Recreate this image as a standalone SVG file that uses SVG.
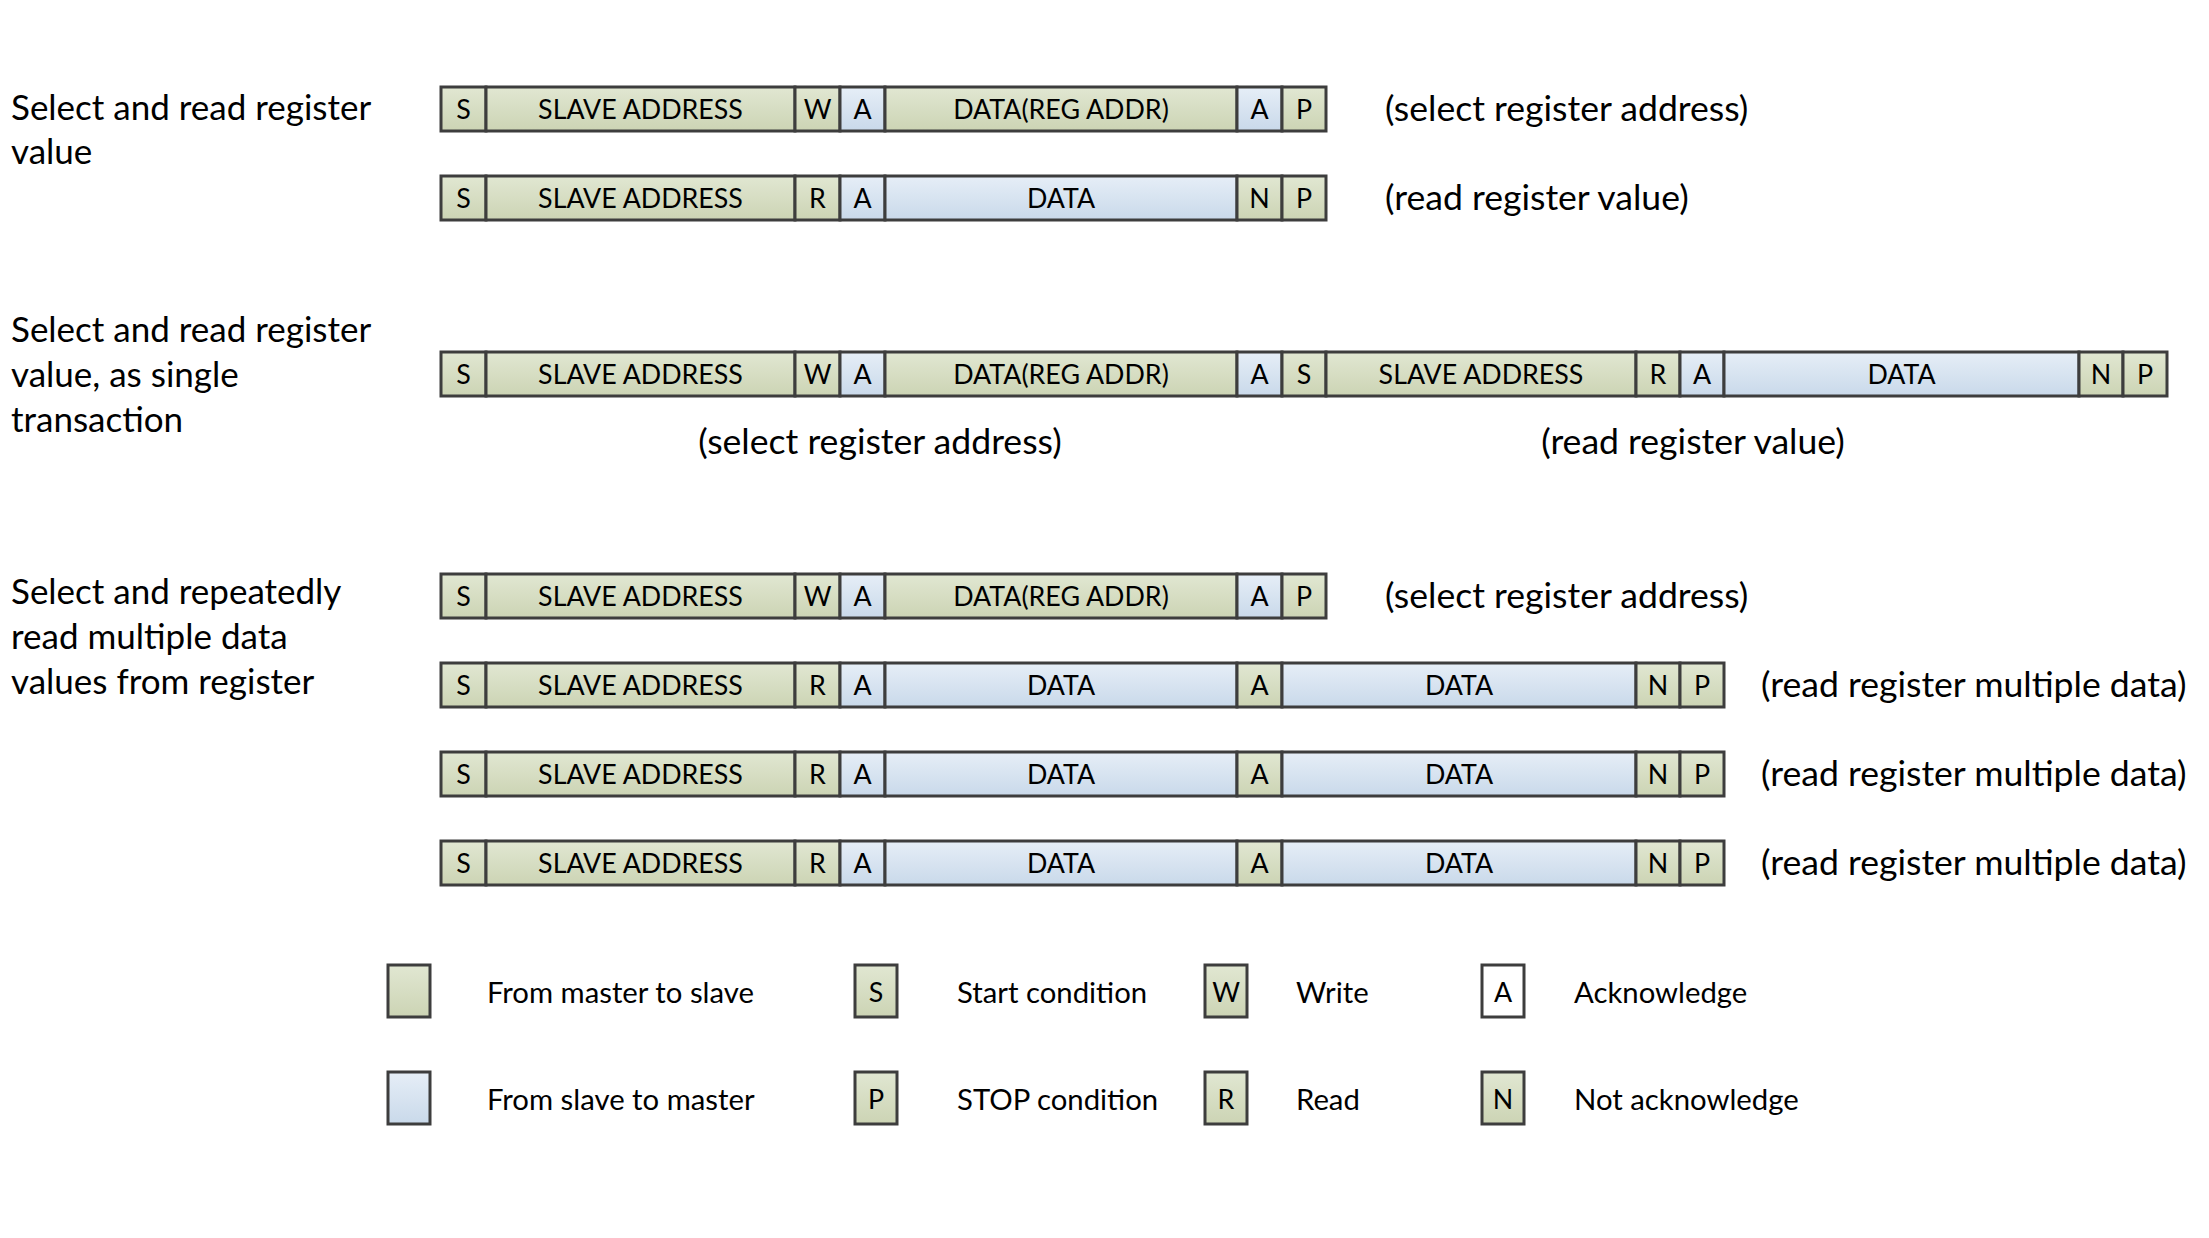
<svg xmlns="http://www.w3.org/2000/svg" width="2209" height="1238" viewBox="0 0 2209 1238">
<style>
.bg{fill:#ffffff}
rect.g{fill:url(#gg);stroke:#3d3d3d;stroke-width:3}
rect.b{fill:url(#gb);stroke:#3d3d3d;stroke-width:3}
rect.w{fill:#ffffff;stroke:#3d3d3d;stroke-width:3}
text{font-family:Lato,"Liberation Sans",sans-serif;fill:#000}
.c{font-size:26.8px;text-anchor:middle}
.lab{font-size:35px}
.note{font-size:35.6px}
.leg{font-size:29.3px}
</style>
<defs>
<linearGradient id="gg" x1="0" y1="0" x2="0" y2="1">
<stop offset="0" stop-color="#e1e7d2"/>
<stop offset="1" stop-color="#ccd4b4"/>
</linearGradient>
<linearGradient id="gb" x1="0" y1="0" x2="0" y2="1">
<stop offset="0" stop-color="#e6eef7"/>
<stop offset="1" stop-color="#c9d9ea"/>
</linearGradient>
</defs>
<rect class="bg" x="0" y="0" width="2209" height="1238"/>

<g id="labels">
<text class="lab" x="11" y="120">Select and read register</text>
<text class="lab" x="11" y="164">value</text>
<text class="lab" x="11" y="342">Select and read register</text>
<text class="lab" x="11" y="387">value, as single</text>
<text class="lab" x="11" y="432">transaction</text>
<text class="lab" x="11" y="604">Select and repeatedly</text>
<text class="lab" x="11" y="649">read multiple data</text>
<text class="lab" x="11" y="694">values from register</text>
</g>

<g id="row1">
<rect class="g" x="441" y="87" width="45" height="44"/><text class="c" x="463.5" y="119">S</text>
<rect class="g" x="486" y="87" width="309" height="44"/><text class="c" x="640.5" y="119">SLAVE ADDRESS</text>
<rect class="g" x="795" y="87" width="45" height="44"/><text class="c" x="817.5" y="119">W</text>
<rect class="b" x="840" y="87" width="45" height="44"/><text class="c" x="862.5" y="119">A</text>
<rect class="g" x="885" y="87" width="352" height="44"/><text class="c" x="1061" y="119">DATA(REG ADDR)</text>
<rect class="b" x="1237" y="87" width="45" height="44"/><text class="c" x="1259.5" y="119">A</text>
<rect class="g" x="1282" y="87" width="44" height="44"/><text class="c" x="1304" y="119">P</text>
<text class="note" x="1385" y="121">(select register address)</text>
</g>

<g id="row2">
<rect class="g" x="441" y="176" width="45" height="44"/><text class="c" x="463.5" y="208">S</text>
<rect class="g" x="486" y="176" width="309" height="44"/><text class="c" x="640.5" y="208">SLAVE ADDRESS</text>
<rect class="g" x="795" y="176" width="45" height="44"/><text class="c" x="817.5" y="208">R</text>
<rect class="b" x="840" y="176" width="45" height="44"/><text class="c" x="862.5" y="208">A</text>
<rect class="b" x="885" y="176" width="352" height="44"/><text class="c" x="1061" y="208">DATA</text>
<rect class="g" x="1237" y="176" width="45" height="44"/><text class="c" x="1259.5" y="208">N</text>
<rect class="g" x="1282" y="176" width="44" height="44"/><text class="c" x="1304" y="208">P</text>
<text class="note" x="1385" y="210">(read register value)</text>
</g>

<g id="row3">
<rect class="g" x="441" y="352" width="45" height="44"/><text class="c" x="463.5" y="384">S</text>
<rect class="g" x="486" y="352" width="309" height="44"/><text class="c" x="640.5" y="384">SLAVE ADDRESS</text>
<rect class="g" x="795" y="352" width="45" height="44"/><text class="c" x="817.5" y="384">W</text>
<rect class="b" x="840" y="352" width="45" height="44"/><text class="c" x="862.5" y="384">A</text>
<rect class="g" x="885" y="352" width="352" height="44"/><text class="c" x="1061" y="384">DATA(REG ADDR)</text>
<rect class="b" x="1237" y="352" width="45" height="44"/><text class="c" x="1259.5" y="384">A</text>
<rect class="g" x="1282" y="352" width="44" height="44"/><text class="c" x="1304" y="384">S</text>
<rect class="g" x="1326" y="352" width="310" height="44"/><text class="c" x="1481" y="384">SLAVE ADDRESS</text>
<rect class="g" x="1636" y="352" width="44" height="44"/><text class="c" x="1658" y="384">R</text>
<rect class="b" x="1680" y="352" width="44" height="44"/><text class="c" x="1702" y="384">A</text>
<rect class="b" x="1724" y="352" width="355" height="44"/><text class="c" x="1901.5" y="384">DATA</text>
<rect class="g" x="2079" y="352" width="44" height="44"/><text class="c" x="2101" y="384">N</text>
<rect class="g" x="2123" y="352" width="44" height="44"/><text class="c" x="2145" y="384">P</text>
<text class="note" x="880" y="454" text-anchor="middle">(select register address)</text>
<text class="note" x="1693" y="454" text-anchor="middle">(read register value)</text>
</g>

<g id="row4">
<rect class="g" x="441" y="574" width="45" height="44"/><text class="c" x="463.5" y="606">S</text>
<rect class="g" x="486" y="574" width="309" height="44"/><text class="c" x="640.5" y="606">SLAVE ADDRESS</text>
<rect class="g" x="795" y="574" width="45" height="44"/><text class="c" x="817.5" y="606">W</text>
<rect class="b" x="840" y="574" width="45" height="44"/><text class="c" x="862.5" y="606">A</text>
<rect class="g" x="885" y="574" width="352" height="44"/><text class="c" x="1061" y="606">DATA(REG ADDR)</text>
<rect class="b" x="1237" y="574" width="45" height="44"/><text class="c" x="1259.5" y="606">A</text>
<rect class="g" x="1282" y="574" width="44" height="44"/><text class="c" x="1304" y="606">P</text>
<text class="note" x="1385" y="608">(select register address)</text>
</g>

<g id="row5">
<rect class="g" x="441" y="663" width="45" height="44"/><text class="c" x="463.5" y="695">S</text>
<rect class="g" x="486" y="663" width="309" height="44"/><text class="c" x="640.5" y="695">SLAVE ADDRESS</text>
<rect class="g" x="795" y="663" width="45" height="44"/><text class="c" x="817.5" y="695">R</text>
<rect class="b" x="840" y="663" width="45" height="44"/><text class="c" x="862.5" y="695">A</text>
<rect class="b" x="885" y="663" width="352" height="44"/><text class="c" x="1061" y="695">DATA</text>
<rect class="g" x="1237" y="663" width="45" height="44"/><text class="c" x="1259.5" y="695">A</text>
<rect class="b" x="1282" y="663" width="354" height="44"/><text class="c" x="1459" y="695">DATA</text>
<rect class="g" x="1636" y="663" width="44" height="44"/><text class="c" x="1658" y="695">N</text>
<rect class="g" x="1680" y="663" width="44" height="44"/><text class="c" x="1702" y="695">P</text>
<text class="note" x="1761" y="697">(read register multiple data)</text>
</g>

<g id="row6">
<rect class="g" x="441" y="752" width="45" height="44"/><text class="c" x="463.5" y="784">S</text>
<rect class="g" x="486" y="752" width="309" height="44"/><text class="c" x="640.5" y="784">SLAVE ADDRESS</text>
<rect class="g" x="795" y="752" width="45" height="44"/><text class="c" x="817.5" y="784">R</text>
<rect class="b" x="840" y="752" width="45" height="44"/><text class="c" x="862.5" y="784">A</text>
<rect class="b" x="885" y="752" width="352" height="44"/><text class="c" x="1061" y="784">DATA</text>
<rect class="g" x="1237" y="752" width="45" height="44"/><text class="c" x="1259.5" y="784">A</text>
<rect class="b" x="1282" y="752" width="354" height="44"/><text class="c" x="1459" y="784">DATA</text>
<rect class="g" x="1636" y="752" width="44" height="44"/><text class="c" x="1658" y="784">N</text>
<rect class="g" x="1680" y="752" width="44" height="44"/><text class="c" x="1702" y="784">P</text>
<text class="note" x="1761" y="786">(read register multiple data)</text>
</g>

<g id="row7">
<rect class="g" x="441" y="841" width="45" height="44"/><text class="c" x="463.5" y="873">S</text>
<rect class="g" x="486" y="841" width="309" height="44"/><text class="c" x="640.5" y="873">SLAVE ADDRESS</text>
<rect class="g" x="795" y="841" width="45" height="44"/><text class="c" x="817.5" y="873">R</text>
<rect class="b" x="840" y="841" width="45" height="44"/><text class="c" x="862.5" y="873">A</text>
<rect class="b" x="885" y="841" width="352" height="44"/><text class="c" x="1061" y="873">DATA</text>
<rect class="g" x="1237" y="841" width="45" height="44"/><text class="c" x="1259.5" y="873">A</text>
<rect class="b" x="1282" y="841" width="354" height="44"/><text class="c" x="1459" y="873">DATA</text>
<rect class="g" x="1636" y="841" width="44" height="44"/><text class="c" x="1658" y="873">N</text>
<rect class="g" x="1680" y="841" width="44" height="44"/><text class="c" x="1702" y="873">P</text>
<text class="note" x="1761" y="875">(read register multiple data)</text>
</g>

<g id="legend">
<rect class="g" x="388" y="965" width="42" height="52"/><text class="leg" x="487" y="1003">From master to slave</text>
<rect class="b" x="388" y="1072" width="42" height="52"/><text class="leg" x="487" y="1110">From slave to master</text>
<rect class="g" x="855" y="965" width="42" height="52"/><text class="c" x="876" y="1002">S</text><text class="leg" x="957" y="1003">Start condition</text>
<rect class="g" x="855" y="1072" width="42" height="52"/><text class="c" x="876" y="1109">P</text><text class="leg" x="957" y="1110">STOP condition</text>
<rect class="g" x="1205" y="965" width="42" height="52"/><text class="c" x="1226" y="1002">W</text><text class="leg" x="1296" y="1003">Write</text>
<rect class="g" x="1205" y="1072" width="42" height="52"/><text class="c" x="1226" y="1109">R</text><text class="leg" x="1296" y="1110">Read</text>
<rect class="w" x="1482" y="965" width="42" height="52"/><text class="c" x="1503" y="1002">A</text><text class="leg" x="1574" y="1003">Acknowledge</text>
<rect class="g" x="1482" y="1072" width="42" height="52"/><text class="c" x="1503" y="1109">N</text><text class="leg" x="1574" y="1110">Not acknowledge</text>
</g>
<g id="connectors"/>
</svg>
